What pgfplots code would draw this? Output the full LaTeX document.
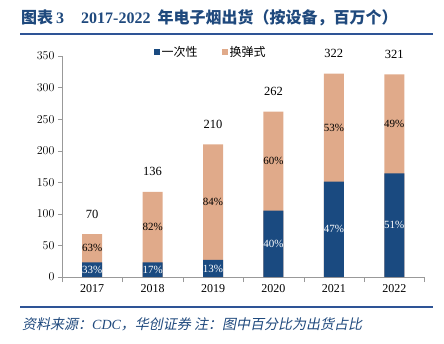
\documentclass[border=0pt]{standalone}
\usepackage{pgfplots}
\pgfplotsset{compat=1.18}
\usepackage{fontspec}
\setmainfont{Liberation Serif}
\newfontfamily\cjk{Noto Sans CJK SC}
\newfontfamily\cjkit{Noto Sans CJK SC}[FakeSlant=0.2]
\definecolor{dblue}{RGB}{26,74,128}
\definecolor{peach}{RGB}{224,170,138}
\definecolor{tblue}{RGB}{31,73,125}
\definecolor{rule}{RGB}{46,84,150}
\begin{document}
\begin{tikzpicture}
\path[use as bounding box] (0,0) rectangle (444pt,343pt);
% title and rules
\node[anchor=west, text=tblue, font=\fontsize{16}{18}\selectfont\bfseries, inner sep=0pt] at (21pt,325pt) {{\cjk 图表}\hspace{3pt}3\hspace{17pt}2017-2022\hspace{7pt}{\cjk 年电子烟出货（按设备，百万个）}};
\draw[rule, line width=1.5pt] (20pt,309pt) -- (433pt,309pt);
\draw[rule, line width=1.5pt] (20pt,36pt) -- (433pt,36pt);
\node[anchor=west, text=tblue, font=\fontsize{14}{16}\selectfont\itshape, inner sep=0pt] at (22pt,19pt) {{\cjkit 资料来源：}CDC{\cjkit ，华创证券\ 注：图中百分比为出货占比}};
\begin{axis}[
  at={(62pt,66pt)}, anchor=south west,
  scale only axis, width=362.5pt, height=221pt,
  xmin=-0.5, xmax=5.5, ymin=0, ymax=350,
  ytick={0,50,...,350},
  xtick={0,...,5},
  xticklabels={2017,2018,2019,2020,2021,2022},
  minor xtick={-0.5,0.5,...,5.5},
  axis lines*=left,
  axis line style={gray!80},
  tick align=outside,
  major tick length=4pt, minor tick length=5pt,
  major x tick style={draw=none},
  tick style={gray!80},
  minor tick style={gray!80},
  ticklabel style={font=\fontsize{12}{14}\selectfont, text=black},
  clip=false,
  legend style={draw=none, fill=none, at={(0.41,1.018)}, anchor=center,
    legend columns=2, font=\cjk\fontsize{12}{14}\selectfont,
    /tikz/every even column/.append style={column sep=22pt}},
  legend image code/.code={\fill[#1] (0pt,-3pt) rectangle (6pt,3pt);},
]
\addlegendimage{fill=dblue, draw=none}
\addlegendentry{一次性}
\addlegendimage{fill=peach, draw=none}
\addlegendentry{换弹式}
% totals (换弹式 on top of 一次性)
\addplot[ybar, bar width=20pt, bar shift=0pt, fill=peach, draw=none, forget plot]
  coordinates {(0,68) (1,135) (2,210) (3,262) (4,322) (5,321)};
% 一次性
\addplot[ybar, bar width=20pt, bar shift=0pt, fill=dblue, draw=none, forget plot]
  coordinates {(0,23) (1,23) (2,27) (3,105) (4,151) (5,164)};
% percent labels, 一次性
\addplot[draw=none, mark=none, forget plot, nodes near coords, point meta=explicit symbolic,
  every node near coord/.style={anchor=center, text=white, font=\fontsize{11}{13}\selectfont, inner sep=0pt}]
  coordinates {(0,11.5)[33\%] (1,11.5)[17\%] (2,13.5)[13\%] (3,52.5)[40\%] (4,75.5)[47\%] (5,82)[51\%]};
% percent labels, 换弹式
\addplot[draw=none, mark=none, forget plot, nodes near coords, point meta=explicit symbolic,
  every node near coord/.style={anchor=center, text=black, font=\fontsize{11}{13}\selectfont, inner sep=0pt}]
  coordinates {(0,45.5)[63\%] (1,79)[82\%] (2,118.5)[84\%] (3,183.5)[60\%] (4,236.5)[53\%] (5,242.5)[49\%]};
% totals labels
\addplot[draw=none, mark=none, forget plot, nodes near coords, point meta=explicit symbolic,
  every node near coord/.style={anchor=center, yshift=20pt, text=black, font=\fontsize{12.5}{14}\selectfont, inner sep=0pt}]
  coordinates {(0,68)[70] (1,135)[136] (2,210)[210] (3,262)[262] (4,322)[322] (5,321)[321]};
\end{axis}
\end{tikzpicture}
\end{document}
